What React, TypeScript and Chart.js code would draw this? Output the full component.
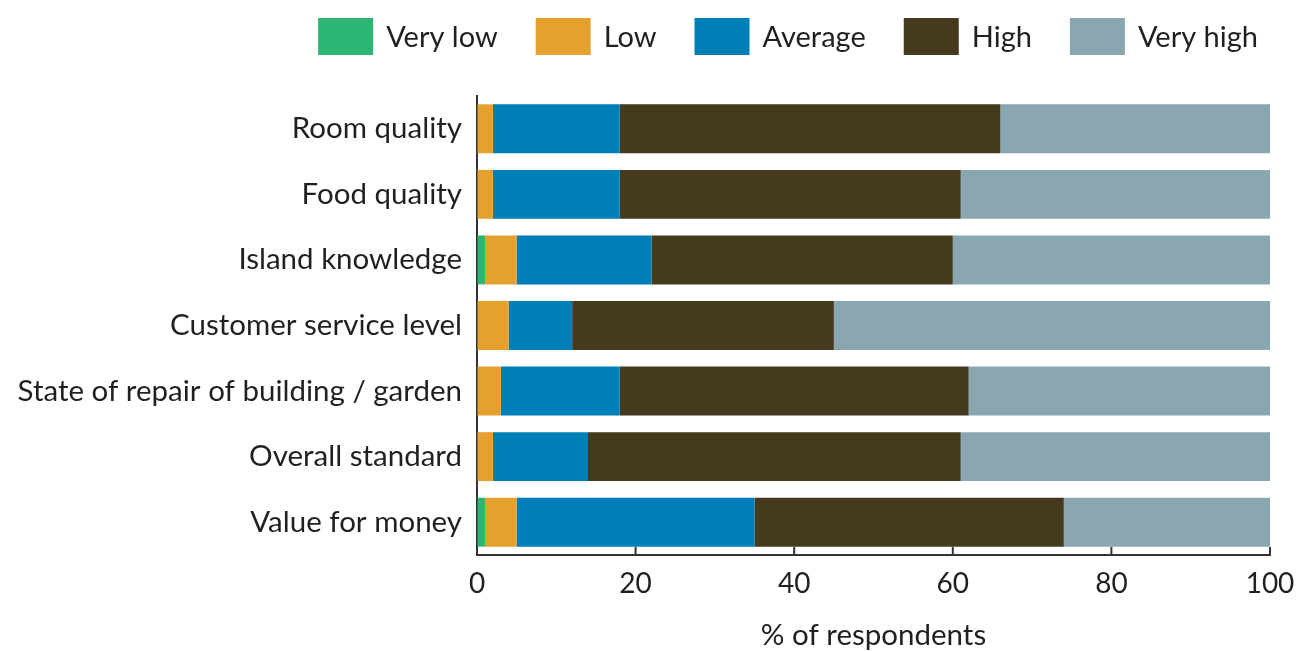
import React, { useEffect, useRef } from "react";
import { Chart, registerables } from "chart.js";

Chart.register(...registerables);

const categories = [
  "Room quality",
  "Food quality",
  "Island knowledge",
  "Customer service level",
  "State of repair of building / garden",
  "Overall standard",
  "Value for money",
];
const seriesNames = ["Very low", "Low", "Average", "High", "Very high"];
const veryLow = [0, 0, 1, 0, 0, 0, 1];
const low = [2, 2, 4, 4, 3, 2, 4];
const average = [16, 16, 17, 8, 15, 12, 30];
const high = [48, 43, 38, 33, 44, 47, 39];
const veryHigh = [34, 39, 40, 55, 38, 39, 26];
const seriesColors = ["#2bb673", "#e5a12e", "#007eb7", "#45391e", "#8aa7b1"];
const xAxisTitle = "% of respondents";

const FONT = "Lato";
const LABEL_SIZE = 29.5;
const TICK_SIZE = 28;
const LEGEND_SIZE = 29;
const TEXT = "#231f20";
const AXIS = "#333333";

const legendPlugin = {
  id: "customLegend",
  afterDraw(chart: any) {
    const ctx = chart.ctx;
    ctx.save();
    ctx.font = `${LEGEND_SIZE}px ${FONT}`;
    const items = chart.data.datasets.map((d: any) => ({
      label: d.label,
      color: d.backgroundColor,
      w: ctx.measureText(d.label).width,
    }));
    const boxW = 55, boxH = 37, gap = 13, spacing = 38;
    const total =
      items.reduce((s: number, it: any) => s + boxW + gap + it.w, 0) +
      spacing * (items.length - 1);
    let x = 1258 - total;
    const top = 18;
    for (const it of items) {
      ctx.fillStyle = it.color;
      ctx.fillRect(x, top, boxW, boxH);
      ctx.fillStyle = TEXT;
      ctx.textBaseline = "middle";
      ctx.textAlign = "left";
      ctx.fillText(it.label, x + boxW + gap, top + boxH / 2 + 1);
      x += boxW + gap + it.w + spacing;
    }
    ctx.restore();
  },
};

const innerTicksPlugin = {
  id: "innerTicks",
  afterDraw(chart: any) {
    const xs = chart.scales.x;
    const ctx = chart.ctx;
    const bottom = chart.chartArea.bottom;
    ctx.save();
    ctx.strokeStyle = AXIS;
    ctx.lineWidth = 2;
    for (const t of xs.ticks) {
      const px = xs.getPixelForValue(t.value);
      ctx.beginPath();
      ctx.moveTo(px, bottom);
      ctx.lineTo(px, bottom - 8);
      ctx.stroke();
    }
    ctx.restore();
  },
};

export default function App() {
  const ref = useRef<HTMLCanvasElement | null>(null);

  useEffect(() => {
    if (!ref.current) return;
    const values = [veryLow, low, average, high, veryHigh];
    const chart = new Chart(ref.current, {
      type: "bar",
      data: {
        labels: categories,
        datasets: seriesNames.map((name, i) => ({
          label: name,
          data: values[i],
          backgroundColor: seriesColors[i],
          borderWidth: 0,
          barPercentage: 0.746,
          categoryPercentage: 1,
        })),
      },
      options: {
        indexAxis: "y",
        responsive: false,
        animation: false,
        layout: { padding: { top: 96, right: 26, left: 0, bottom: 0 } },
        plugins: {
          legend: { display: false },
          tooltip: { enabled: false },
        },
        scales: {
          x: {
            stacked: true,
            min: 0,
            max: 100,
            ticks: {
              stepSize: 20,
              color: TEXT,
              font: { family: FONT, size: TICK_SIZE },
              padding: 12,
              maxRotation: 0,
            },
            grid: { drawOnChartArea: false, drawTicks: false },
            border: { display: true, color: AXIS, width: 2 },
            title: {
              display: true,
              text: xAxisTitle,
              color: TEXT,
              font: { family: FONT, size: LABEL_SIZE },
              padding: { top: 0, bottom: -2 },
            },
            afterFit(scale: any) {
              scale.height = 96;
              scale.paddingLeft = 0;
              scale.paddingRight = 0;
            },
          },
          y: {
            stacked: true,
            ticks: {
              color: TEXT,
              font: { family: FONT, size: LABEL_SIZE },
              padding: 15,
            },
            grid: { display: false, drawTicks: false },
            border: { display: true, color: AXIS, width: 2 },
            afterFit(scale: any) {
              scale.width = 477;
              scale.paddingTop = 0;
              scale.paddingBottom = 0;
            },
          },
        },
      },
      plugins: [legendPlugin, innerTicksPlugin],
    });
    return () => chart.destroy();
  }, []);

  return (
    <div style={{ position: "absolute", left: 0, top: 0, width: 1296, height: 651, background: "#fff" }}>
      <canvas ref={ref} width={1296} height={651} style={{ width: 1296, height: 651, display: "block" }} />
    </div>
  );
}
